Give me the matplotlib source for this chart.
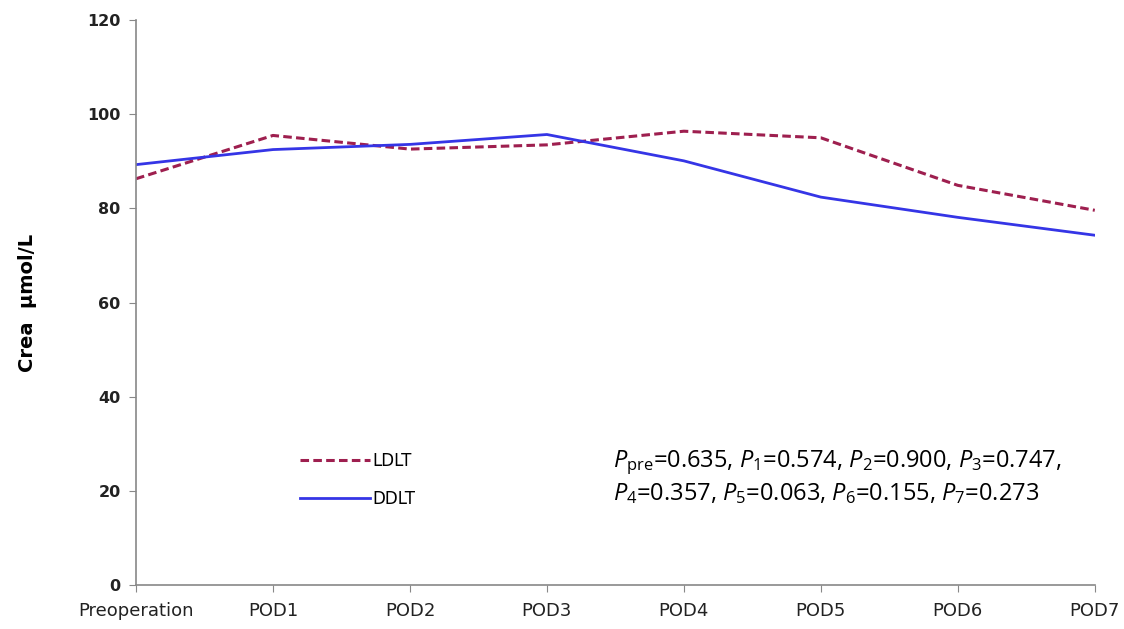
import matplotlib

matplotlib.use("Agg")
import matplotlib.pyplot as plt

days = ["Preoperation", "POD1", "POD2", "POD3", "POD4", "POD5", "POD6", "POD7"]
ldlt = [86.3, 95.5, 92.6, 93.5, 96.4, 95.0, 84.9, 79.6]
ddlt = [89.3, 92.5, 93.6, 95.7, 90.1, 82.4, 78.1, 74.3]
yticks = [0, 20, 40, 60, 80, 100, 120]

pvals_line1 = r"$\it{P}_{\rm pre}$=0.635, $\it{P}_{\rm 1}$=0.574, $\it{P}_{\rm 2}$=0.900, $\it{P}_{\rm 3}$=0.747,"
pvals_line2 = r"$\it{P}_{\rm 4}$=0.357, $\it{P}_{\rm 5}$=0.063, $\it{P}_{\rm 6}$=0.155, $\it{P}_{\rm 7}$=0.273"

plt.rcParams["mathtext.fontset"] = "custom"
plt.rcParams["mathtext.rm"] = "Open Sans"
plt.rcParams["mathtext.it"] = "Open Sans:italic"

fig = plt.figure(figsize=(11.24, 6.29), dpi=100)
ax = fig.add_axes([0.121, 0.070, 0.853, 0.898])

x = range(len(days))
ax.plot(x, ldlt, color="#9E1F4F", lw=2.2, ls=(0, (2.8, 1.4)), label="LDLT")
ax.plot(x, ddlt, color="#3535E6", lw=2.0, label="DDLT")

ax.set_xlim(0, len(days) - 1)
ax.set_ylim(0, 120)
ax.set_yticks(yticks)
ax.set_xticks(list(x))
ax.set_xticklabels(days, fontsize=13, color="#222222")
ax.tick_params(axis="y", labelsize=11.5, colors="#222222", length=5, color="#888888", pad=6)
ax.tick_params(axis="x", length=5, color="#888888", pad=7)
for lbl in ax.get_yticklabels():
    lbl.set_fontweight("bold")

for side in ("top", "right"):
    ax.spines[side].set_visible(False)
for side in ("left", "bottom"):
    ax.spines[side].set_color("#888888")
    ax.spines[side].set_linewidth(1.2)

ax.set_ylabel("Crea  \u00b5mol/L", fontsize=14, fontweight="bold", labelpad=36)

ax.legend(loc="upper left", bbox_to_anchor=(0.155, 0.262), frameon=False,
          fontsize=12, handlelength=4.2, handletextpad=0.15, labelspacing=1.2)

ax.text(0.497, 0.216, pvals_line1, transform=ax.transAxes, fontsize=17,
        family="Open Sans", va="center", ha="left")
ax.text(0.497, 0.162, pvals_line2, transform=ax.transAxes, fontsize=17,
        family="Open Sans", va="center", ha="left")

fig.savefig("out.png", dpi=100)
